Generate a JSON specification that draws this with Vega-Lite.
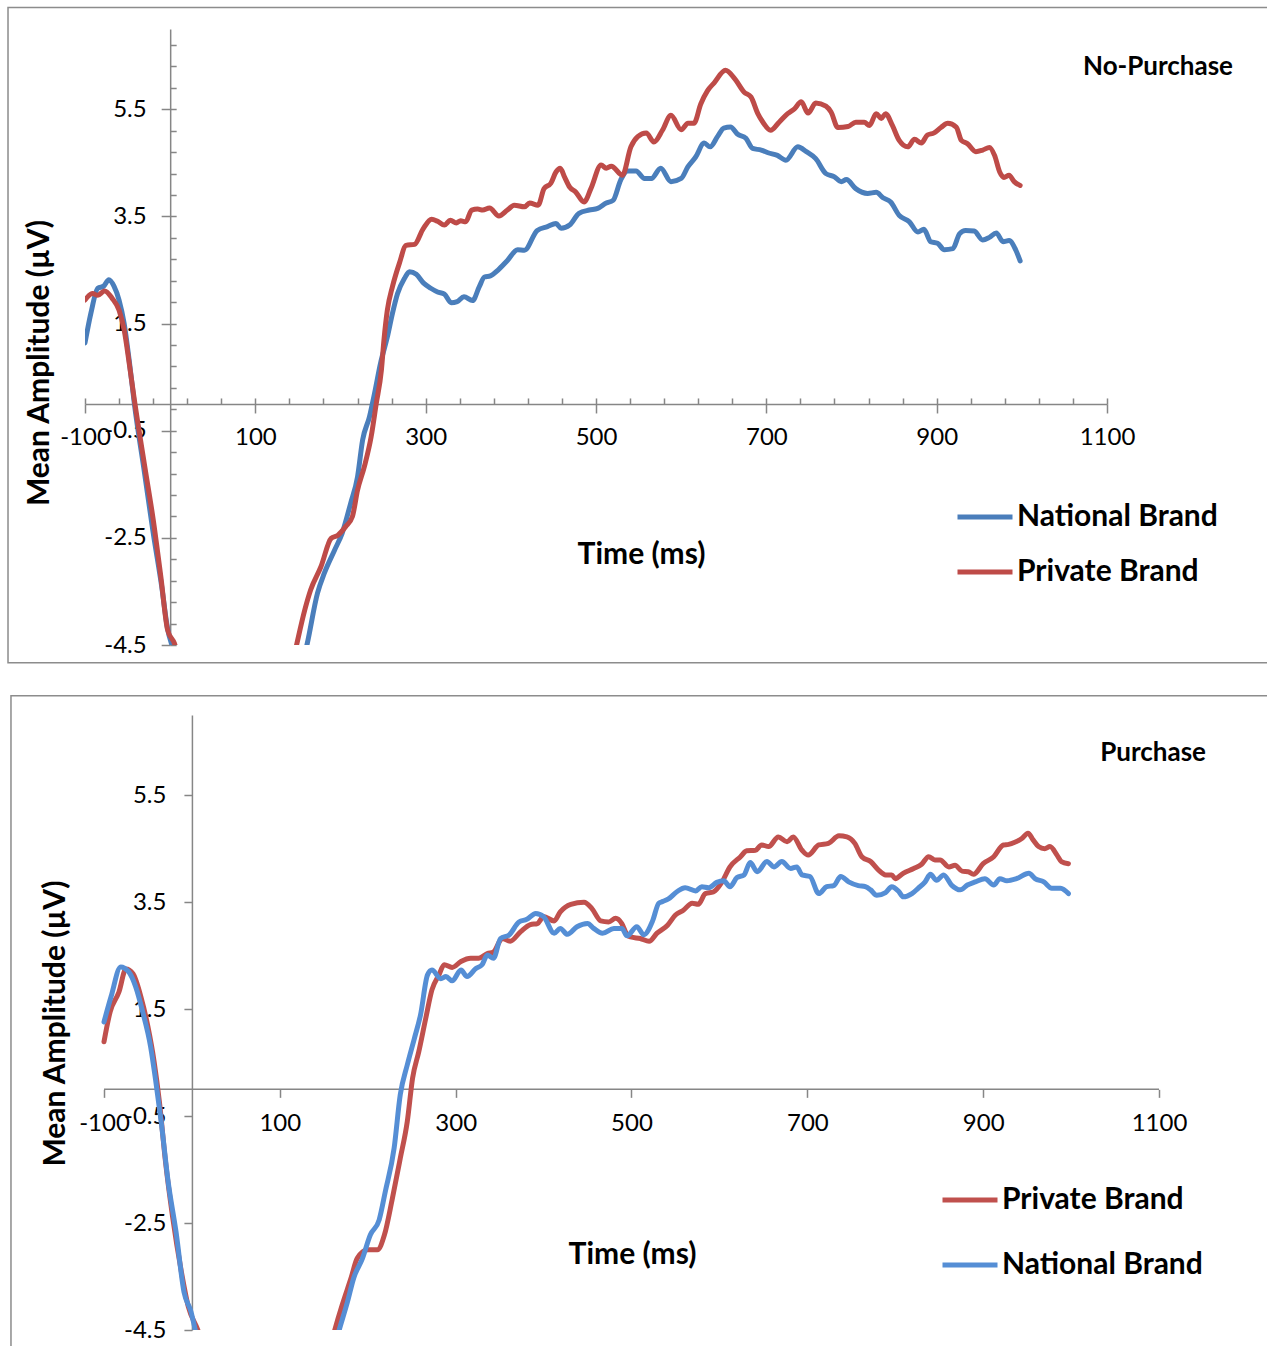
{
  "$schema": "https://vega.github.io/schema/vega-lite/v6.json",
  "background": "white",
  "padding": {"left": 7, "top": 6, "right": 0, "bottom": 0},
  "spacing": 30,
  "columns": 1,
  "align": "none",
  "config": {
    "view": {"stroke": null},
    "font": "Lato",
    "axis": {
      "labelFont": "Lato", "titleFont": "Lato", "labelColor": "#000000", "titleColor": "#000000",
      "domainColor": "#868686", "tickColor": "#868686", "domainWidth": 1.5, "tickWidth": 1.5,
      "grid": false, "labelFlush": false, "labelOverlap": false, "labelFontSize": 24, "titleFontWeight": "bold",
      "labelExpr": "replace(datum.label, '\u2212', '-')"
    },
    "legend": {"labelFont": "Lato", "labelFontSize": 30, "labelFontWeight": "bold", "labelColor": "#000000", "labelLimit": 0},
    "title": {"font": "Lato", "fontWeight": "bold", "color": "#000000"}
  },
  "resolve": {"scale": {"color": "independent", "x": "independent", "y": "independent"}, "legend": {"color": "independent"}},
  "datasets": {
    "nopurchase": [
      {"s":"National Brand","t":-100,"v":1.14},{"s":"National Brand","t":-93,"v":1.7},{"s":"National Brand","t":-85,"v":2.16},{"s":"National Brand","t":-78,"v":2.2},{"s":"National Brand","t":-72,"v":2.32},{"s":"National Brand","t":-66,"v":2.2},{"s":"National Brand","t":-60,"v":1.94},{"s":"National Brand","t":-54,"v":1.5},{"s":"National Brand","t":-48,"v":0.8},{"s":"National Brand","t":-42,"v":0.0},{"s":"National Brand","t":-30,"v":-1.3},{"s":"National Brand","t":-20,"v":-2.4},{"s":"National Brand","t":-10,"v":-3.4},{"s":"National Brand","t":-3,"v":-4.2},{"s":"National Brand","t":3,"v":-4.55},{"s":"National Brand","t":15,"v":-5.2},{"s":"National Brand","t":40,"v":-6.6},{"s":"National Brand","t":70,"v":-7.3},{"s":"National Brand","t":100,"v":-7.2},{"s":"National Brand","t":125,"v":-6.5},{"s":"National Brand","t":145,"v":-5.5},
      {"s":"National Brand","t":161,"v":-4.47},{"s":"National Brand","t":173,"v":-3.53},{"s":"National Brand","t":181,"v":-3.16},{"s":"National Brand","t":193,"v":-2.73},{"s":"National Brand","t":202,"v":-2.41},{"s":"National Brand","t":212,"v":-1.85},{"s":"National Brand","t":220,"v":-1.36},{"s":"National Brand","t":226,"v":-0.67},{"s":"National Brand","t":234,"v":-0.24},{"s":"National Brand","t":240,"v":0.2},{"s":"National Brand","t":247,"v":0.76},{"s":"National Brand","t":255,"v":1.25},{"s":"National Brand","t":261,"v":1.69},{"s":"National Brand","t":267,"v":2.06},{"s":"National Brand","t":275,"v":2.34},{"s":"National Brand","t":281,"v":2.47},{"s":"National Brand","t":289,"v":2.42},{"s":"National Brand","t":298,"v":2.25},{"s":"National Brand","t":306,"v":2.16},{"s":"National Brand","t":314,"v":2.09},{"s":"National Brand","t":322,"v":2.05},{"s":"National Brand","t":330,"v":1.89},{"s":"National Brand","t":337,"v":1.91},{"s":"National Brand","t":345,"v":2.0},{"s":"National Brand","t":355,"v":1.93},{"s":"National Brand","t":363,"v":2.19},{"s":"National Brand","t":369,"v":2.37},{"s":"National Brand","t":376,"v":2.39},{"s":"National Brand","t":385,"v":2.5},{"s":"National Brand","t":396,"v":2.68},{"s":"National Brand","t":408,"v":2.88},{"s":"National Brand","t":416,"v":2.87},{"s":"National Brand","t":431,"v":3.24},{"s":"National Brand","t":443,"v":3.31},{"s":"National Brand","t":453,"v":3.37},{"s":"National Brand","t":459,"v":3.28},{"s":"National Brand","t":469,"v":3.34},{"s":"National Brand","t":480,"v":3.56},{"s":"National Brand","t":492,"v":3.62},{"s":"National Brand","t":502,"v":3.65},{"s":"National Brand","t":512,"v":3.75},{"s":"National Brand","t":520,"v":3.8},{"s":"National Brand","t":529,"v":4.18},{"s":"National Brand","t":537,"v":4.35},{"s":"National Brand","t":547,"v":4.35},{"s":"National Brand","t":557,"v":4.21},{"s":"National Brand","t":565,"v":4.21},{"s":"National Brand","t":576,"v":4.4},{"s":"National Brand","t":588,"v":4.15},{"s":"National Brand","t":600,"v":4.21},{"s":"National Brand","t":608,"v":4.43},{"s":"National Brand","t":617,"v":4.61},{"s":"National Brand","t":627,"v":4.87},{"s":"National Brand","t":634,"v":4.8},{"s":"National Brand","t":643,"v":5.0},{"s":"National Brand","t":650,"v":5.15},{"s":"National Brand","t":658,"v":5.17},{"s":"National Brand","t":666,"v":5.04},{"s":"National Brand","t":676,"v":4.96},{"s":"National Brand","t":684,"v":4.77},{"s":"National Brand","t":694,"v":4.74},{"s":"National Brand","t":702,"v":4.69},{"s":"National Brand","t":713,"v":4.64},{"s":"National Brand","t":723,"v":4.55},{"s":"National Brand","t":737,"v":4.8},{"s":"National Brand","t":747,"v":4.71},{"s":"National Brand","t":758,"v":4.58},{"s":"National Brand","t":770,"v":4.3},{"s":"National Brand","t":780,"v":4.24},{"s":"National Brand","t":788,"v":4.15},{"s":"National Brand","t":794,"v":4.19},{"s":"National Brand","t":805,"v":4.02},{"s":"National Brand","t":819,"v":3.93},{"s":"National Brand","t":829,"v":3.95},{"s":"National Brand","t":837,"v":3.85},{"s":"National Brand","t":846,"v":3.77},{"s":"National Brand","t":856,"v":3.52},{"s":"National Brand","t":868,"v":3.4},{"s":"National Brand","t":878,"v":3.21},{"s":"National Brand","t":885,"v":3.26},{"s":"National Brand","t":893,"v":3.03},{"s":"National Brand","t":901,"v":3.0},{"s":"National Brand","t":909,"v":2.88},{"s":"National Brand","t":919,"v":2.9},{"s":"National Brand","t":927,"v":3.18},{"s":"National Brand","t":934,"v":3.24},{"s":"National Brand","t":944,"v":3.23},{"s":"National Brand","t":954,"v":3.06},{"s":"National Brand","t":962,"v":3.11},{"s":"National Brand","t":970,"v":3.19},{"s":"National Brand","t":978,"v":3.03},{"s":"National Brand","t":985,"v":3.05},{"s":"National Brand","t":993,"v":2.87},{"s":"National Brand","t":998,"v":2.67},
      {"s":"Private Brand","t":-100,"v":1.94},{"s":"Private Brand","t":-91,"v":2.06},{"s":"Private Brand","t":-85,"v":2.03},{"s":"Private Brand","t":-77,"v":2.11},{"s":"Private Brand","t":-68,"v":1.97},{"s":"Private Brand","t":-60,"v":1.75},{"s":"Private Brand","t":-54,"v":1.38},{"s":"Private Brand","t":-48,"v":0.75},{"s":"Private Brand","t":-42,"v":0.07},{"s":"Private Brand","t":-30,"v":-1.15},{"s":"Private Brand","t":-20,"v":-2.15},{"s":"Private Brand","t":-11,"v":-3.22},{"s":"Private Brand","t":-3,"v":-4.22},{"s":"Private Brand","t":5,"v":-4.47},{"s":"Private Brand","t":20,"v":-5.5},{"s":"Private Brand","t":45,"v":-6.8},{"s":"Private Brand","t":75,"v":-7.4},{"s":"Private Brand","t":100,"v":-7.3},{"s":"Private Brand","t":125,"v":-6.4},{"s":"Private Brand","t":140,"v":-5.1},
      {"s":"Private Brand","t":148,"v":-4.53},{"s":"Private Brand","t":158,"v":-3.85},{"s":"Private Brand","t":165,"v":-3.47},{"s":"Private Brand","t":177,"v":-3.04},{"s":"Private Brand","t":189,"v":-2.51},{"s":"Private Brand","t":197,"v":-2.45},{"s":"Private Brand","t":206,"v":-2.29},{"s":"Private Brand","t":214,"v":-2.1},{"s":"Private Brand","t":220,"v":-1.61},{"s":"Private Brand","t":228,"v":-1.17},{"s":"Private Brand","t":236,"v":-0.61},{"s":"Private Brand","t":242,"v":0.01},{"s":"Private Brand","t":248,"v":0.63},{"s":"Private Brand","t":251,"v":1.19},{"s":"Private Brand","t":255,"v":1.75},{"s":"Private Brand","t":261,"v":2.19},{"s":"Private Brand","t":269,"v":2.62},{"s":"Private Brand","t":277,"v":2.96},{"s":"Private Brand","t":287,"v":2.98},{"s":"Private Brand","t":297,"v":3.27},{"s":"Private Brand","t":307,"v":3.45},{"s":"Private Brand","t":314,"v":3.41},{"s":"Private Brand","t":322,"v":3.34},{"s":"Private Brand","t":329,"v":3.43},{"s":"Private Brand","t":336,"v":3.38},{"s":"Private Brand","t":341,"v":3.42},{"s":"Private Brand","t":347,"v":3.4},{"s":"Private Brand","t":354,"v":3.62},{"s":"Private Brand","t":361,"v":3.64},{"s":"Private Brand","t":367,"v":3.62},{"s":"Private Brand","t":375,"v":3.66},{"s":"Private Brand","t":386,"v":3.51},{"s":"Private Brand","t":396,"v":3.62},{"s":"Private Brand","t":404,"v":3.71},{"s":"Private Brand","t":416,"v":3.68},{"s":"Private Brand","t":422,"v":3.75},{"s":"Private Brand","t":432,"v":3.71},{"s":"Private Brand","t":439,"v":4.02},{"s":"Private Brand","t":447,"v":4.12},{"s":"Private Brand","t":453,"v":4.33},{"s":"Private Brand","t":458,"v":4.4},{"s":"Private Brand","t":463,"v":4.24},{"s":"Private Brand","t":469,"v":4.05},{"s":"Private Brand","t":476,"v":3.96},{"s":"Private Brand","t":486,"v":3.77},{"s":"Private Brand","t":494,"v":4.02},{"s":"Private Brand","t":506,"v":4.46},{"s":"Private Brand","t":512,"v":4.4},{"s":"Private Brand","t":518,"v":4.44},{"s":"Private Brand","t":531,"v":4.27},{"s":"Private Brand","t":541,"v":4.8},{"s":"Private Brand","t":549,"v":4.99},{"s":"Private Brand","t":559,"v":5.06},{"s":"Private Brand","t":568,"v":4.89},{"s":"Private Brand","t":578,"v":5.11},{"s":"Private Brand","t":588,"v":5.39},{"s":"Private Brand","t":600,"v":5.12},{"s":"Private Brand","t":608,"v":5.24},{"s":"Private Brand","t":615,"v":5.24},{"s":"Private Brand","t":623,"v":5.6},{"s":"Private Brand","t":631,"v":5.85},{"s":"Private Brand","t":639,"v":6.0},{"s":"Private Brand","t":652,"v":6.23},{"s":"Private Brand","t":663,"v":6.07},{"s":"Private Brand","t":674,"v":5.82},{"s":"Private Brand","t":682,"v":5.73},{"s":"Private Brand","t":690,"v":5.42},{"s":"Private Brand","t":696,"v":5.26},{"s":"Private Brand","t":705,"v":5.11},{"s":"Private Brand","t":715,"v":5.26},{"s":"Private Brand","t":725,"v":5.42},{"s":"Private Brand","t":733,"v":5.51},{"s":"Private Brand","t":741,"v":5.64},{"s":"Private Brand","t":749,"v":5.43},{"s":"Private Brand","t":758,"v":5.62},{"s":"Private Brand","t":770,"v":5.56},{"s":"Private Brand","t":776,"v":5.45},{"s":"Private Brand","t":784,"v":5.16},{"s":"Private Brand","t":796,"v":5.18},{"s":"Private Brand","t":805,"v":5.26},{"s":"Private Brand","t":815,"v":5.26},{"s":"Private Brand","t":821,"v":5.2},{"s":"Private Brand","t":829,"v":5.42},{"s":"Private Brand","t":835,"v":5.33},{"s":"Private Brand","t":840,"v":5.42},{"s":"Private Brand","t":848,"v":5.2},{"s":"Private Brand","t":856,"v":4.92},{"s":"Private Brand","t":866,"v":4.8},{"s":"Private Brand","t":874,"v":4.94},{"s":"Private Brand","t":882,"v":4.87},{"s":"Private Brand","t":889,"v":5.02},{"s":"Private Brand","t":897,"v":5.06},{"s":"Private Brand","t":905,"v":5.16},{"s":"Private Brand","t":913,"v":5.24},{"s":"Private Brand","t":923,"v":5.17},{"s":"Private Brand","t":929,"v":4.92},{"s":"Private Brand","t":936,"v":4.86},{"s":"Private Brand","t":946,"v":4.71},{"s":"Private Brand","t":954,"v":4.74},{"s":"Private Brand","t":962,"v":4.79},{"s":"Private Brand","t":968,"v":4.64},{"s":"Private Brand","t":974,"v":4.33},{"s":"Private Brand","t":979,"v":4.23},{"s":"Private Brand","t":985,"v":4.27},{"s":"Private Brand","t":991,"v":4.15},{"s":"Private Brand","t":998,"v":4.08}
    ],
    "purchase": [
      {"s":"Private Brand","t":-100,"v":0.89},{"s":"Private Brand","t":-93,"v":1.45},{"s":"Private Brand","t":-83,"v":1.82},{"s":"Private Brand","t":-75,"v":2.25},{"s":"Private Brand","t":-67,"v":2.16},{"s":"Private Brand","t":-58,"v":1.73},{"s":"Private Brand","t":-50,"v":1.17},{"s":"Private Brand","t":-43,"v":0.52},{"s":"Private Brand","t":-37,"v":-0.23},{"s":"Private Brand","t":-30,"v":-1.36},{"s":"Private Brand","t":-22,"v":-2.38},{"s":"Private Brand","t":-12,"v":-3.41},{"s":"Private Brand","t":-4,"v":-4.07},{"s":"Private Brand","t":7,"v":-4.51},{"s":"Private Brand","t":25,"v":-5.6},{"s":"Private Brand","t":50,"v":-6.8},{"s":"Private Brand","t":80,"v":-7.3},{"s":"Private Brand","t":110,"v":-7.1},{"s":"Private Brand","t":135,"v":-6.2},{"s":"Private Brand","t":150,"v":-5.3},
      {"s":"Private Brand","t":162,"v":-4.53},{"s":"Private Brand","t":171,"v":-4.03},{"s":"Private Brand","t":181,"v":-3.53},{"s":"Private Brand","t":188,"v":-3.16},{"s":"Private Brand","t":200,"v":-3.0},{"s":"Private Brand","t":211,"v":-3.0},{"s":"Private Brand","t":219,"v":-2.72},{"s":"Private Brand","t":228,"v":-2.04},{"s":"Private Brand","t":237,"v":-1.29},{"s":"Private Brand","t":245,"v":-0.6},{"s":"Private Brand","t":251,"v":0.21},{"s":"Private Brand","t":258,"v":0.7},{"s":"Private Brand","t":266,"v":1.33},{"s":"Private Brand","t":273,"v":1.86},{"s":"Private Brand","t":281,"v":2.14},{"s":"Private Brand","t":287,"v":2.33},{"s":"Private Brand","t":296,"v":2.28},{"s":"Private Brand","t":306,"v":2.39},{"s":"Private Brand","t":317,"v":2.45},{"s":"Private Brand","t":326,"v":2.45},{"s":"Private Brand","t":336,"v":2.54},{"s":"Private Brand","t":343,"v":2.57},{"s":"Private Brand","t":353,"v":2.82},{"s":"Private Brand","t":362,"v":2.77},{"s":"Private Brand","t":374,"v":2.95},{"s":"Private Brand","t":385,"v":3.08},{"s":"Private Brand","t":393,"v":3.1},{"s":"Private Brand","t":400,"v":3.23},{"s":"Private Brand","t":412,"v":3.15},{"s":"Private Brand","t":419,"v":3.32},{"s":"Private Brand","t":431,"v":3.46},{"s":"Private Brand","t":446,"v":3.5},{"s":"Private Brand","t":455,"v":3.38},{"s":"Private Brand","t":465,"v":3.15},{"s":"Private Brand","t":474,"v":3.13},{"s":"Private Brand","t":482,"v":3.2},{"s":"Private Brand","t":489,"v":3.1},{"s":"Private Brand","t":495,"v":2.89},{"s":"Private Brand","t":499,"v":2.85},{"s":"Private Brand","t":510,"v":2.82},{"s":"Private Brand","t":520,"v":2.77},{"s":"Private Brand","t":529,"v":2.92},{"s":"Private Brand","t":541,"v":3.07},{"s":"Private Brand","t":550,"v":3.26},{"s":"Private Brand","t":559,"v":3.35},{"s":"Private Brand","t":569,"v":3.48},{"s":"Private Brand","t":576,"v":3.46},{"s":"Private Brand","t":584,"v":3.66},{"s":"Private Brand","t":593,"v":3.69},{"s":"Private Brand","t":603,"v":3.88},{"s":"Private Brand","t":612,"v":4.16},{"s":"Private Brand","t":624,"v":4.35},{"s":"Private Brand","t":631,"v":4.46},{"s":"Private Brand","t":641,"v":4.47},{"s":"Private Brand","t":648,"v":4.57},{"s":"Private Brand","t":656,"v":4.54},{"s":"Private Brand","t":667,"v":4.72},{"s":"Private Brand","t":677,"v":4.63},{"s":"Private Brand","t":684,"v":4.72},{"s":"Private Brand","t":694,"v":4.47},{"s":"Private Brand","t":701,"v":4.38},{"s":"Private Brand","t":713,"v":4.57},{"s":"Private Brand","t":724,"v":4.6},{"s":"Private Brand","t":736,"v":4.74},{"s":"Private Brand","t":745,"v":4.72},{"s":"Private Brand","t":754,"v":4.6},{"s":"Private Brand","t":762,"v":4.35},{"s":"Private Brand","t":772,"v":4.26},{"s":"Private Brand","t":781,"v":4.1},{"s":"Private Brand","t":789,"v":4.01},{"s":"Private Brand","t":796,"v":4.01},{"s":"Private Brand","t":800,"v":3.94},{"s":"Private Brand","t":809,"v":4.04},{"s":"Private Brand","t":821,"v":4.13},{"s":"Private Brand","t":830,"v":4.21},{"s":"Private Brand","t":838,"v":4.35},{"s":"Private Brand","t":845,"v":4.29},{"s":"Private Brand","t":851,"v":4.29},{"s":"Private Brand","t":861,"v":4.16},{"s":"Private Brand","t":868,"v":4.19},{"s":"Private Brand","t":876,"v":4.08},{"s":"Private Brand","t":883,"v":4.07},{"s":"Private Brand","t":889,"v":4.02},{"s":"Private Brand","t":900,"v":4.22},{"s":"Private Brand","t":912,"v":4.35},{"s":"Private Brand","t":923,"v":4.57},{"s":"Private Brand","t":929,"v":4.58},{"s":"Private Brand","t":936,"v":4.62},{"s":"Private Brand","t":944,"v":4.69},{"s":"Private Brand","t":951,"v":4.79},{"s":"Private Brand","t":957,"v":4.66},{"s":"Private Brand","t":963,"v":4.54},{"s":"Private Brand","t":970,"v":4.5},{"s":"Private Brand","t":976,"v":4.54},{"s":"Private Brand","t":984,"v":4.38},{"s":"Private Brand","t":989,"v":4.26},{"s":"Private Brand","t":997,"v":4.22},
      {"s":"National Brand","t":-100,"v":1.26},{"s":"National Brand","t":-92,"v":1.73},{"s":"National Brand","t":-81,"v":2.29},{"s":"National Brand","t":-72,"v":2.2},{"s":"National Brand","t":-64,"v":1.92},{"s":"National Brand","t":-56,"v":1.45},{"s":"National Brand","t":-47,"v":0.8},{"s":"National Brand","t":-41,"v":0.14},{"s":"National Brand","t":-35,"v":-0.6},{"s":"National Brand","t":-27,"v":-1.73},{"s":"National Brand","t":-18,"v":-2.67},{"s":"National Brand","t":-9,"v":-3.79},{"s":"National Brand","t":-1,"v":-4.16},{"s":"National Brand","t":4,"v":-4.51},{"s":"National Brand","t":20,"v":-5.5},{"s":"National Brand","t":45,"v":-6.8},{"s":"National Brand","t":75,"v":-7.4},{"s":"National Brand","t":105,"v":-7.3},{"s":"National Brand","t":130,"v":-6.5},{"s":"National Brand","t":150,"v":-5.6},
      {"s":"National Brand","t":167,"v":-4.53},{"s":"National Brand","t":177,"v":-3.97},{"s":"National Brand","t":184,"v":-3.53},{"s":"National Brand","t":194,"v":-3.16},{"s":"National Brand","t":203,"v":-2.72},{"s":"National Brand","t":213,"v":-2.44},{"s":"National Brand","t":220,"v":-1.91},{"s":"National Brand","t":230,"v":-1.1},{"s":"National Brand","t":237,"v":-0.1},{"s":"National Brand","t":245,"v":0.46},{"s":"National Brand","t":253,"v":0.95},{"s":"National Brand","t":260,"v":1.39},{"s":"National Brand","t":268,"v":2.14},{"s":"National Brand","t":273,"v":2.23},{"s":"National Brand","t":283,"v":2.07},{"s":"National Brand","t":289,"v":2.11},{"s":"National Brand","t":296,"v":2.03},{"s":"National Brand","t":306,"v":2.23},{"s":"National Brand","t":313,"v":2.11},{"s":"National Brand","t":323,"v":2.26},{"s":"National Brand","t":330,"v":2.33},{"s":"National Brand","t":336,"v":2.51},{"s":"National Brand","t":343,"v":2.45},{"s":"National Brand","t":351,"v":2.82},{"s":"National Brand","t":361,"v":2.89},{"s":"National Brand","t":372,"v":3.13},{"s":"National Brand","t":381,"v":3.18},{"s":"National Brand","t":391,"v":3.29},{"s":"National Brand","t":400,"v":3.23},{"s":"National Brand","t":412,"v":2.92},{"s":"National Brand","t":419,"v":3.01},{"s":"National Brand","t":427,"v":2.9},{"s":"National Brand","t":438,"v":3.04},{"s":"National Brand","t":450,"v":3.1},{"s":"National Brand","t":457,"v":3.01},{"s":"National Brand","t":467,"v":2.92},{"s":"National Brand","t":480,"v":3.01},{"s":"National Brand","t":489,"v":3.01},{"s":"National Brand","t":495,"v":2.87},{"s":"National Brand","t":506,"v":3.04},{"s":"National Brand","t":514,"v":2.89},{"s":"National Brand","t":524,"v":3.15},{"s":"National Brand","t":531,"v":3.48},{"s":"National Brand","t":535,"v":3.51},{"s":"National Brand","t":542,"v":3.56},{"s":"National Brand","t":552,"v":3.7},{"s":"National Brand","t":561,"v":3.77},{"s":"National Brand","t":573,"v":3.71},{"s":"National Brand","t":580,"v":3.79},{"s":"National Brand","t":588,"v":3.77},{"s":"National Brand","t":597,"v":3.87},{"s":"National Brand","t":605,"v":3.9},{"s":"National Brand","t":612,"v":3.79},{"s":"National Brand","t":620,"v":3.96},{"s":"National Brand","t":628,"v":4.01},{"s":"National Brand","t":635,"v":4.24},{"s":"National Brand","t":643,"v":4.07},{"s":"National Brand","t":654,"v":4.26},{"s":"National Brand","t":662,"v":4.16},{"s":"National Brand","t":671,"v":4.26},{"s":"National Brand","t":681,"v":4.13},{"s":"National Brand","t":688,"v":4.16},{"s":"National Brand","t":694,"v":4.01},{"s":"National Brand","t":703,"v":3.98},{"s":"National Brand","t":713,"v":3.66},{"s":"National Brand","t":722,"v":3.79},{"s":"National Brand","t":730,"v":3.81},{"s":"National Brand","t":738,"v":3.98},{"s":"National Brand","t":747,"v":3.88},{"s":"National Brand","t":758,"v":3.81},{"s":"National Brand","t":766,"v":3.79},{"s":"National Brand","t":772,"v":3.73},{"s":"National Brand","t":779,"v":3.63},{"s":"National Brand","t":789,"v":3.68},{"s":"National Brand","t":796,"v":3.79},{"s":"National Brand","t":804,"v":3.7},{"s":"National Brand","t":809,"v":3.6},{"s":"National Brand","t":819,"v":3.66},{"s":"National Brand","t":826,"v":3.76},{"s":"National Brand","t":834,"v":3.88},{"s":"National Brand","t":840,"v":4.02},{"s":"National Brand","t":847,"v":3.91},{"s":"National Brand","t":855,"v":4.01},{"s":"National Brand","t":864,"v":3.82},{"s":"National Brand","t":874,"v":3.73},{"s":"National Brand","t":882,"v":3.82},{"s":"National Brand","t":891,"v":3.88},{"s":"National Brand","t":902,"v":3.94},{"s":"National Brand","t":912,"v":3.82},{"s":"National Brand","t":919,"v":3.94},{"s":"National Brand","t":927,"v":3.9},{"s":"National Brand","t":938,"v":3.94},{"s":"National Brand","t":952,"v":4.04},{"s":"National Brand","t":959,"v":3.94},{"s":"National Brand","t":969,"v":3.88},{"s":"National Brand","t":978,"v":3.76},{"s":"National Brand","t":988,"v":3.76},{"s":"National Brand","t":997,"v":3.66}
    ]
  },
  "concat": [
    {
      "width": 1022,
      "height": 616,
      "title": {"text": "No-Purchase", "anchor": "end", "frame": "group", "fontSize": 26, "baseline": "middle", "offset": 4, "dx": 126, "dy": 90},
      "resolve": {"axis": {"x": "independent", "y": "independent"}},
      "layer": [
        {
          "data": {"values": [{}]},
          "mark": {"type": "rect", "fill": "transparent", "stroke": "#8c8c8c", "strokeWidth": 1.5, "clip": false},
          "encoding": {
            "x": {"datum": -190.4, "type": "quantitative", "scale": {"domain": [-100, 1100], "nice": false, "zero": false}, "axis": null},
            "x2": {"datum": 1290},
            "y": {"datum": 7.4, "type": "quantitative", "scale": {"domain": [-4.5, 7], "nice": false, "zero": false}, "axis": null},
            "y2": {"datum": -4.83}
          }
        },
        {
          "data": {"values": [{}]},
          "mark": {"type": "point", "opacity": 0},
          "encoding": {
            "x": {"datum": 0, "type": "quantitative", "scale": {"domain": [-100, 1100], "nice": false, "zero": false},
              "axis": {"orient": "bottom", "offset": -241.04, "values": [-100,-60,-20,20,60,100,140,180,220,260,300,340,380,420,460,500,540,580,620,660,700,740,780,820,860,900,940,980,1020,1060,1100], "tickSize": -6, "labels": false, "domain": false, "title": null}},
            "y": {"datum": 0, "type": "quantitative", "scale": {"domain": [-4.5, 7], "nice": false, "zero": false},
              "axis": {"orient": "left", "offset": -85.17, "values": [-4.5,-4.1,-3.7,-3.3,-2.9,-2.5,-2.1,-1.7,-1.3,-0.9,-0.5,-0.1,0.3,0.7,1.1,1.5,1.9,2.3,2.7,3.1,3.5,3.9,4.3,4.7,5.1,5.5,5.9,6.3,6.7], "tickSize": -6, "labels": false, "domain": false, "title": null}}
          }
        },
        {
          "data": {"name": "nopurchase"},
          "mark": {"type": "line", "strokeWidth": 5, "clip": true, "interpolate": "monotone", "strokeCap": "round", "strokeJoin": "round"},
          "encoding": {
            "x": {"field": "t", "type": "quantitative", "scale": {"domain": [-100, 1100], "nice": false, "zero": false},
              "axis": {"orient": "bottom", "offset": -241.04, "values": [-100,100,300,500,700,900,1100], "format": "d", "tickSize": 9, "labelPadding": 25, "labelBaseline": "middle",
                "title": "Time (ms)", "titleFontSize": 30, "titleX": 556, "titleY": 151, "titleAlign": "center", "titleBaseline": "middle"}},
            "y": {"field": "v", "type": "quantitative", "scale": {"domain": [-4.5, 7], "nice": false, "zero": false},
              "axis": {"orient": "left", "offset": -85.17, "values": [-4.5,-2.5,-0.5,1.5,3.5,5.5], "format": ".1f", "tickSize": 9, "labelPadding": 15,
                "title": "Mean Amplitude (µV)", "titleFontSize": 30, "titleX": -131, "titleY": 333.5, "titleAngle": -90, "titleAlign": "center", "titleBaseline": "middle"}},
            "color": {"field": "s", "type": "nominal", "sort": null,
              "scale": {"domain": ["National Brand", "Private Brand"], "range": ["#4A7EBB", "#BE4B48"]},
              "legend": {"orient": "none", "legendX": 870, "legendY": 458, "title": null, "symbolType": "stroke", "symbolSize": 3025, "symbolStrokeWidth": 5, "labelOffset": 2, "rowPadding": 10, "padding": 0}}
          }
        }
      ]
    },
    {
      "width": 1074,
      "height": 615,
      "title": {"text": "Purchase", "anchor": "end", "frame": "group", "fontSize": 26, "baseline": "middle", "offset": 4, "dx": 47, "dy": 88},
      "resolve": {"axis": {"x": "independent", "y": "independent"}},
      "layer": [
        {
          "data": {"values": [{}]},
          "mark": {"type": "rect", "fill": "transparent", "stroke": "#8c8c8c", "strokeWidth": 1.5, "clip": false},
          "encoding": {
            "x": {"datum": -205.8, "type": "quantitative", "scale": {"domain": [-121.6, 1100], "nice": false, "zero": false}, "axis": null},
            "x2": {"datum": 1228},
            "y": {"datum": 7.36, "type": "quantitative", "scale": {"domain": [-4.5, 7], "nice": false, "zero": false}, "axis": null},
            "y2": {"datum": -4.9}
          }
        },
        {
          "data": {"values": [{}]},
          "mark": {"type": "rule", "color": "#868686", "strokeWidth": 1.5},
          "encoding": {
            "x": {"datum": -100, "type": "quantitative", "scale": {"domain": [-121.6, 1100], "nice": false, "zero": false}, "axis": null},
            "x2": {"datum": 1100},
            "y": {"datum": 0, "type": "quantitative", "scale": {"domain": [-4.5, 7], "nice": false, "zero": false}, "axis": null}
          }
        },
        {
          "data": {"name": "purchase"},
          "mark": {"type": "line", "strokeWidth": 5, "clip": true, "interpolate": "monotone", "strokeCap": "round", "strokeJoin": "round"},
          "encoding": {
            "x": {"field": "t", "type": "quantitative", "scale": {"domain": [-121.6, 1100], "nice": false, "zero": false},
              "axis": {"orient": "bottom", "offset": -240.65, "values": [-100,100,300,500,700,900,1100], "format": "d", "domain": false, "tickSize": 8, "labelPadding": 26, "labelBaseline": "middle",
                "title": "Time (ms)", "titleFontSize": 30, "titleX": 547, "titleY": 165, "titleAlign": "center", "titleBaseline": "middle"}},
            "y": {"field": "v", "type": "quantitative", "scale": {"domain": [-4.5, 7], "nice": false, "zero": false},
              "axis": {"orient": "left", "offset": -106.92, "values": [-4.5,-2.5,-0.5,1.5,3.5,5.5], "format": ".1f", "tickSize": 8, "labelPadding": 18,
                "title": "Mean Amplitude (µV)", "titleFontSize": 30, "titleX": -136, "titleY": 308, "titleAngle": -90, "titleAlign": "center", "titleBaseline": "middle"}},
            "color": {"field": "s", "type": "nominal", "sort": null,
              "scale": {"domain": ["Private Brand", "National Brand"], "range": ["#C0504D", "#558ED5"]},
              "legend": {"orient": "none", "legendX": 855, "legendY": 455, "title": null, "symbolType": "stroke", "symbolSize": 3025, "symbolStrokeWidth": 5, "labelOffset": 2, "rowPadding": 20, "padding": 0}}
          }
        }
      ]
    }
  ]
}
